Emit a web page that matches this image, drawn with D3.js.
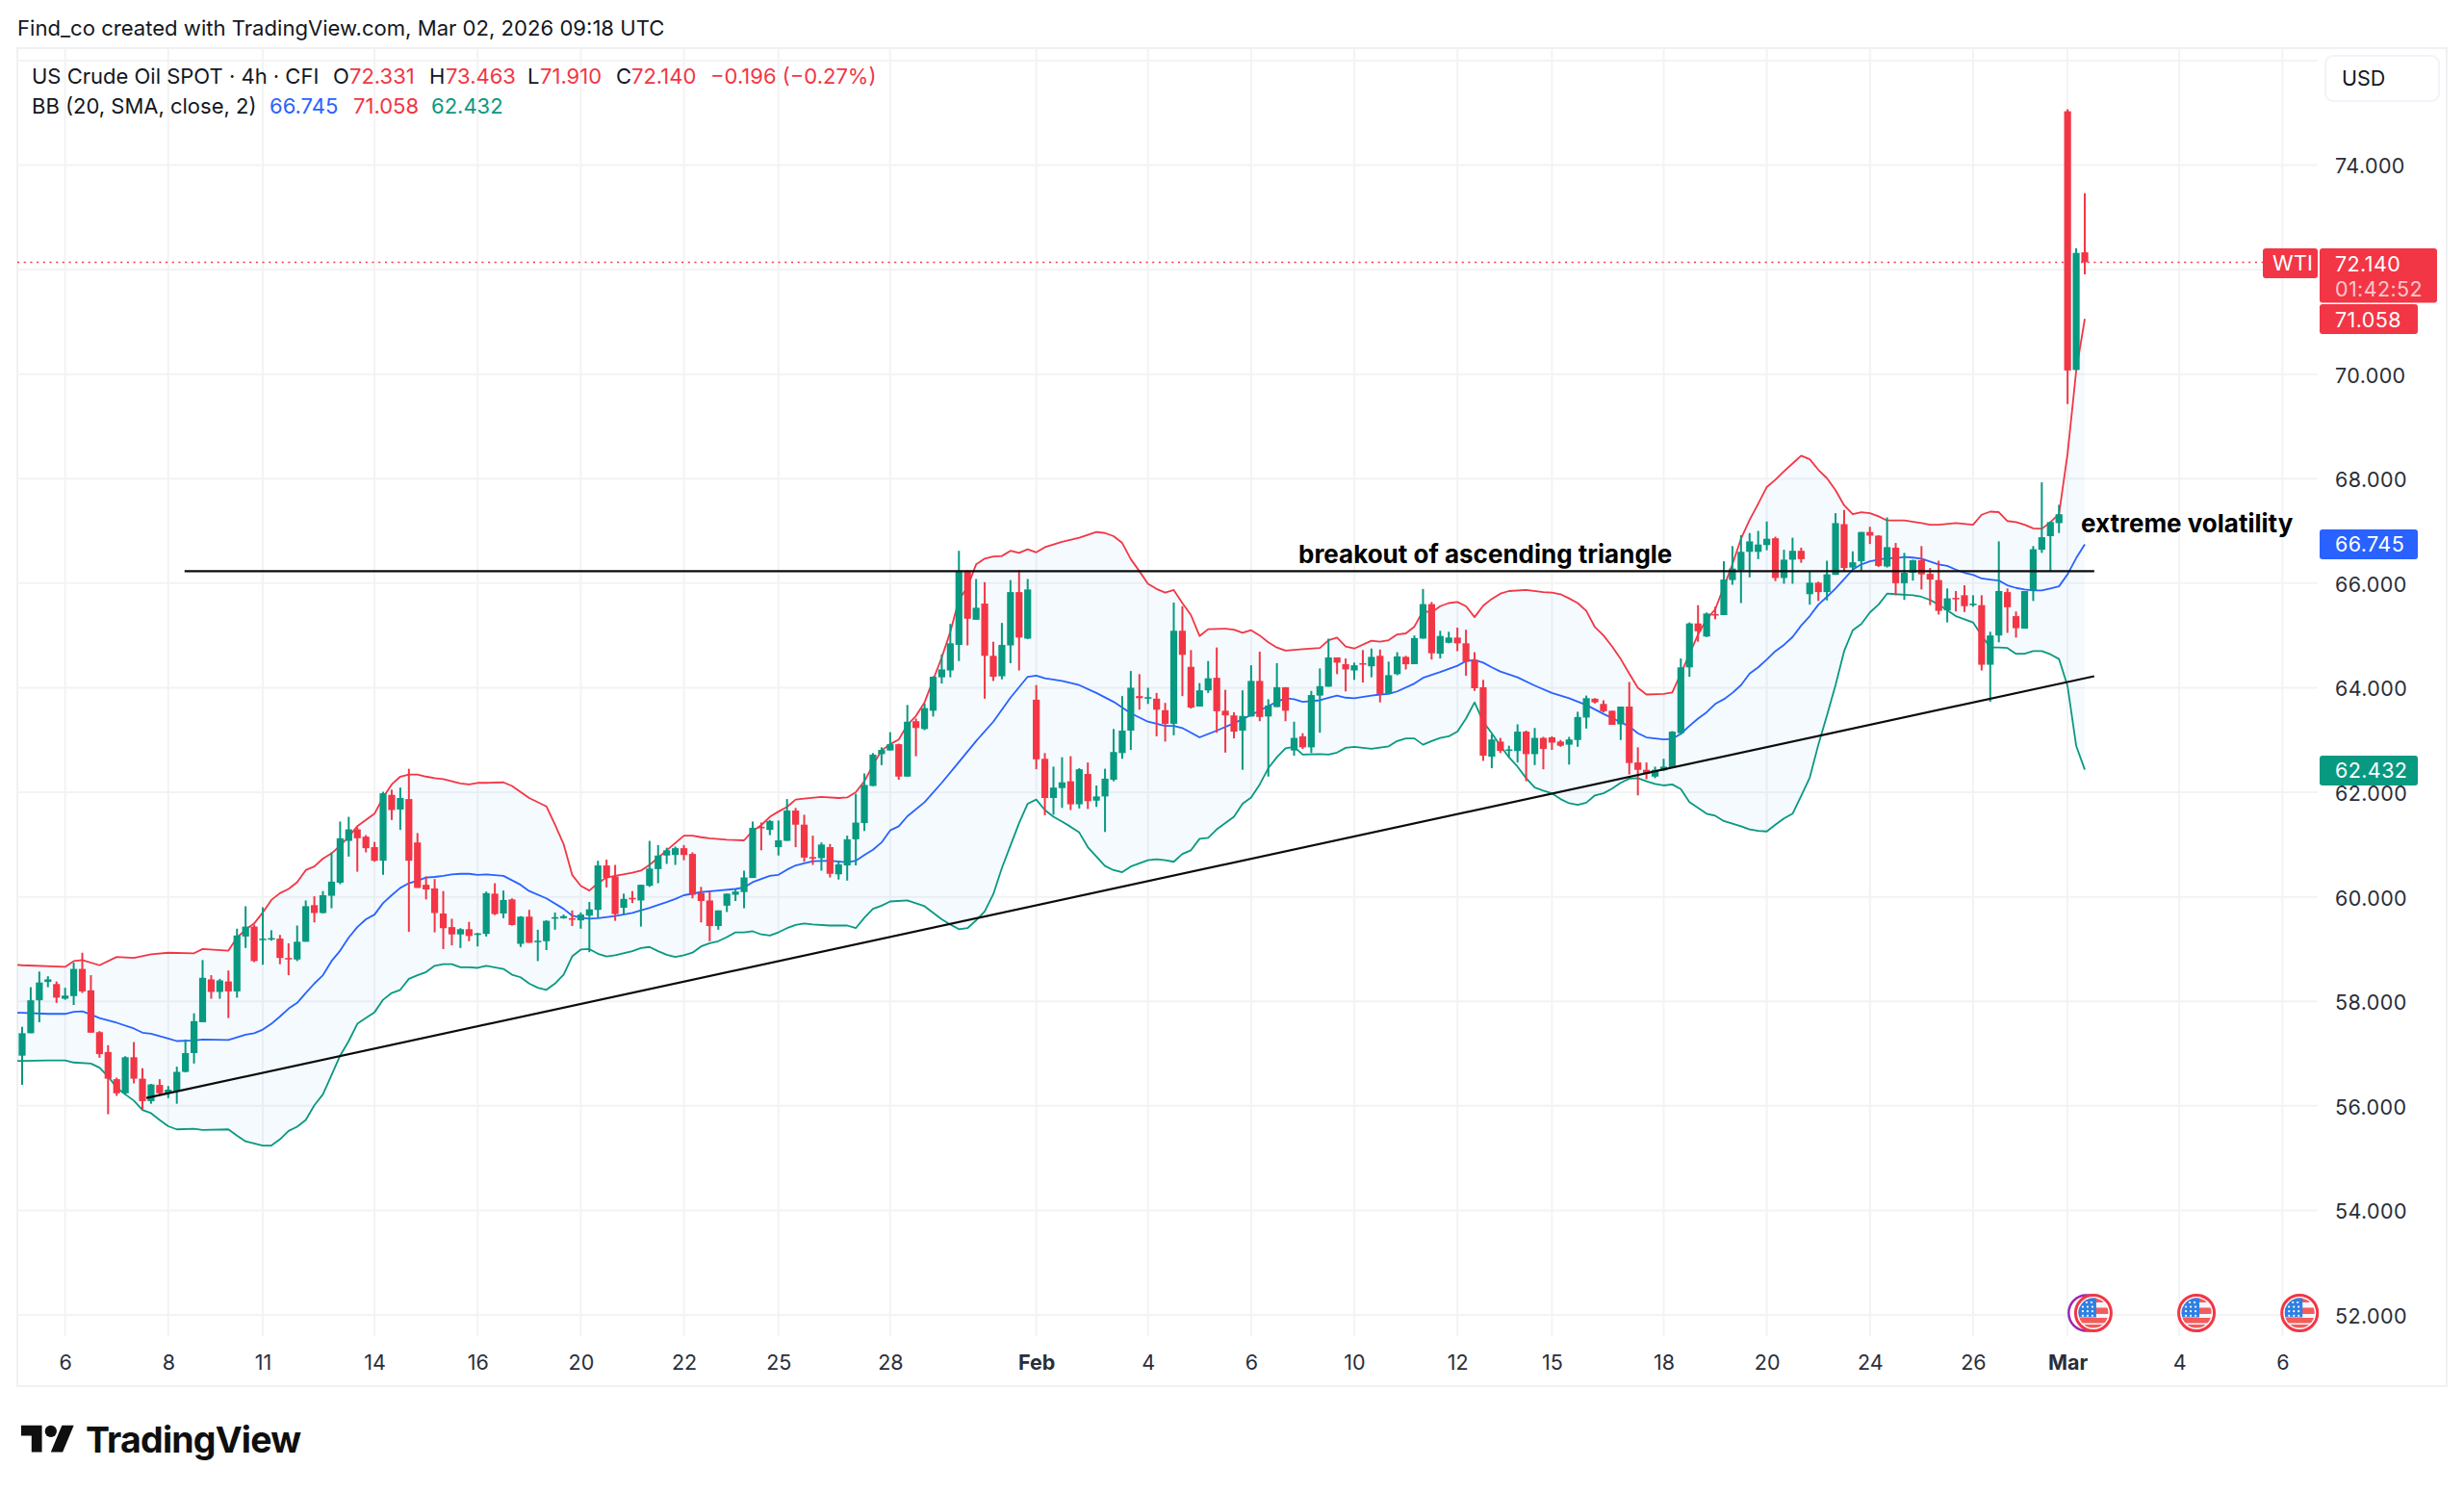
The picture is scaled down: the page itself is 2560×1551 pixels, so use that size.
<!DOCTYPE html>
<html>
<head>
<meta charset="utf-8">
<title>US Crude Oil SPOT 4h</title>
<script src="https://cdn.jsdelivr.net/npm/d3@7/dist/d3.min.js"></script>
<style>
html,body{margin:0;padding:0;background:#fff}
svg{display:block}
text{font-family:Inter,"Noto Sans",sans-serif}
</style>
</head>
<body>
<svg id="chart" width="2560" height="1551"></svg>
<script>
// Four-hour candles, one row per session: open, high, low, close
const candles = [
[56.96,57.51,56.40,57.39],[57.39,58.27,57.39,58.02],[58.02,58.57,57.60,58.36],[58.37,58.48,58.27,58.42],[58.33,58.38,57.97,58.07],
[58.05,58.26,58.03,58.11],[58.10,58.74,57.93,58.62],[58.62,58.93,58.16,58.19],[58.21,58.50,57.40,57.40],[57.41,57.43,56.92,56.99],
[57.03,57.16,55.84,56.52],[56.51,56.54,56.19,56.24],[56.24,56.95,56.21,56.93],[56.93,57.22,56.43,56.52],[56.52,56.72,55.92,56.09],
[56.09,56.42,56.04,56.41],[56.40,56.51,56.21,56.24],[56.24,56.38,56.15,56.31],[56.28,56.75,56.04,56.65],[56.65,57.27,56.64,57.01],
[57.01,57.77,56.81,57.62],[57.60,58.79,57.60,58.45],[58.42,58.50,58.05,58.18],[58.18,58.43,58.05,58.40],[58.38,58.59,57.68,58.19],
[58.19,59.39,58.07,59.26],[59.24,59.82,59.02,59.43],[59.43,59.47,58.75,58.77],[59.17,59.80,58.70,59.20],[59.18,59.36,59.16,59.21],
[59.20,59.27,58.71,58.83],[58.83,59.11,58.50,58.82],[58.80,59.45,58.77,59.14],[59.14,59.93,59.14,59.82],[59.84,60.01,59.51,59.69],
[59.69,60.11,59.68,60.03],[60.02,60.85,59.78,60.29],[60.27,61.44,60.24,61.12],[61.07,61.53,60.77,61.29],[61.29,61.33,60.48,61.12],
[61.15,61.18,60.85,60.93],[60.95,61.05,60.67,60.69],[60.69,62.01,60.42,61.98],[61.95,62.05,61.47,61.66],[61.67,62.09,61.28,61.89],
[61.87,62.45,59.33,60.69],[61.04,61.22,60.17,60.17],[60.23,60.39,59.95,60.14],[60.16,60.34,59.32,59.69],[59.68,60.11,59.00,59.40],
[59.42,59.58,59.07,59.28],[59.28,59.40,59.02,59.38],[59.38,59.52,59.15,59.25],[59.28,59.31,59.05,59.30],[59.29,60.10,59.24,60.07],
[60.06,60.26,59.65,59.67],[59.68,60.12,59.59,59.94],[59.95,59.97,59.45,59.46],[59.10,59.63,59.04,59.62],[59.62,59.75,59.12,59.12],
[59.15,59.37,58.77,59.16],[59.15,59.55,58.98,59.54],[59.59,59.70,59.37,59.61],[59.59,59.66,59.58,59.63],[59.59,59.74,59.44,59.58],
[59.55,59.70,59.39,59.66],[59.64,59.90,58.94,59.76],[59.75,60.69,59.59,60.60],[60.60,60.71,60.18,60.36],[60.39,60.61,59.54,59.67],
[59.79,60.06,59.66,59.96],[59.98,60.11,59.88,59.96],[59.93,60.23,59.43,60.23],[60.21,61.07,60.19,60.54],[60.53,60.99,60.26,60.79],
[60.79,60.94,60.63,60.89],[60.80,60.96,60.61,60.93],[60.93,60.99,60.70,60.80],[60.82,60.85,59.97,60.04],[60.07,60.19,59.51,59.92],
[59.93,60.11,59.15,59.44],[59.44,59.74,59.37,59.74],[59.83,60.06,59.71,60.06],[60.04,60.15,59.92,60.10],[60.09,60.50,59.78,60.37],
[60.36,61.44,60.36,61.32],[61.34,61.42,60.89,61.32],[61.28,61.47,61.18,61.45],[60.95,61.46,60.79,61.08],[61.07,61.87,61.07,61.65],
[61.65,61.70,60.95,61.38],[61.38,61.57,60.67,60.75],[60.76,61.17,60.61,60.74],[60.74,61.04,60.50,61.00],[60.95,61.01,60.37,60.44],
[60.43,60.69,60.33,60.62],[60.60,61.17,60.31,61.10],[61.10,61.97,60.60,61.42],[61.41,62.36,61.26,62.14],[62.12,62.75,62.12,62.72],
[62.73,62.86,62.52,62.81],[62.80,63.15,62.80,62.92],[62.92,62.93,62.24,62.30],[62.30,63.67,62.30,63.35],[63.36,63.41,62.69,63.23],
[63.21,63.70,63.19,63.61],[63.56,64.22,63.45,64.21],[64.20,64.64,64.08,64.35],[64.33,65.22,64.20,64.85],[64.82,66.62,64.51,66.23],
[66.23,66.25,64.81,65.32],[65.30,66.08,65.30,65.53],[65.61,66.02,63.79,64.61],[64.61,64.88,64.13,64.21],[64.22,65.24,64.16,64.82],
[64.81,66.06,64.47,65.83],[65.83,66.25,64.33,64.96],[64.94,66.08,64.93,65.88],[63.77,64.05,62.44,62.63],[62.64,62.75,61.56,61.89],
[61.89,62.49,61.57,62.09],[62.08,62.67,61.70,62.19],[62.21,62.69,61.66,61.77],[61.77,62.46,61.69,62.44],[62.35,62.57,61.68,61.83],
[61.84,62.13,61.72,61.92],[61.92,62.45,61.24,62.26],[62.24,63.21,62.21,62.77],[62.75,63.84,62.64,63.18],[63.18,64.32,62.81,64.00],
[63.84,64.26,63.58,63.80],[63.81,64.00,63.69,63.82],[63.79,63.90,63.07,63.58],[63.57,63.71,62.97,63.31],[63.31,65.63,63.09,65.09],
[65.09,65.56,63.84,64.63],[64.40,64.72,63.60,63.62],[63.64,64.09,63.64,63.95],[63.95,64.51,63.90,64.18],[64.19,64.77,63.14,63.55],
[63.56,63.96,62.76,63.47],[63.47,63.53,63.03,63.16],[63.18,63.95,62.43,63.46],[63.45,64.43,63.45,64.13],[64.13,64.69,63.36,63.44],
[63.45,63.78,62.30,63.66],[63.63,64.47,63.63,64.01],[64.01,64.01,63.36,63.56],[62.80,63.35,62.70,63.04],[63.07,63.13,62.83,62.86],
[62.86,63.94,62.75,63.86],[63.85,64.37,63.14,64.03],[64.02,64.94,64.02,64.58],[64.58,64.58,64.26,64.48],[64.45,64.56,63.93,64.35],
[64.33,64.48,64.15,64.43],[64.47,64.72,64.10,64.46],[64.41,64.75,64.20,64.59],[64.61,64.73,63.72,63.88],[63.88,64.50,63.88,64.24],
[64.26,64.68,64.24,64.60],[64.59,64.61,64.35,64.45],[64.45,65.00,64.45,64.95],[64.94,65.89,64.94,65.60],[65.60,65.64,64.54,64.66],
[64.65,65.09,64.56,64.99],[64.86,65.07,64.85,64.96],[64.96,65.15,64.70,64.85],[64.85,65.11,64.23,64.50],[64.53,64.68,63.94,63.99],
[64.01,64.15,62.60,62.70],[62.68,63.11,62.46,63.01],[62.97,63.04,62.75,62.79],[62.81,62.89,62.67,62.82],[62.79,63.30,62.57,63.16],
[63.16,63.18,62.21,62.73],[62.73,63.23,62.52,63.04],[63.04,63.06,62.44,62.83],[63.05,63.07,62.81,62.95],[62.97,63.00,62.87,62.89],
[62.91,63.06,62.53,63.01],[63.00,63.54,62.87,63.44],[63.43,63.85,63.22,63.80],[63.79,63.80,63.70,63.72],[63.69,63.76,63.53,63.55],
[63.56,63.56,63.29,63.29],[63.30,63.64,63.00,63.64],[63.64,64.11,62.34,62.56],[62.57,62.86,61.94,62.43],[62.43,62.57,62.25,62.35],
[62.30,62.49,62.27,62.43],[62.42,62.64,62.41,62.49],[62.47,63.17,62.47,63.16],[63.13,64.56,63.10,64.39],[64.39,65.25,64.21,65.23],
[65.23,65.58,64.88,65.08],[64.98,65.44,64.97,65.42],[65.41,65.55,65.31,65.40],[65.39,66.42,65.39,66.07],[66.06,66.71,65.97,66.28],
[66.25,66.92,65.62,66.60],[66.60,66.96,66.11,66.80],[66.60,67.00,66.46,66.74],[66.73,67.18,66.63,66.85],[66.86,66.89,66.04,66.10],
[66.10,66.64,65.99,66.45],[66.45,66.87,65.99,66.62],[66.62,66.68,66.39,66.46],[65.79,66.23,65.59,66.01],[66.01,66.03,65.66,65.83],
[65.83,66.43,65.67,66.17],[66.16,67.34,66.16,67.15],[67.13,67.40,66.23,66.29],[66.30,66.61,66.26,66.40],[66.42,66.98,66.22,66.98],
[66.98,67.08,66.75,66.91],[66.91,66.92,66.31,66.33],[66.32,67.26,66.30,66.69],[66.68,66.77,65.77,66.00],[66.00,66.58,65.68,66.20],
[66.20,66.45,66.05,66.44],[66.44,66.71,65.88,66.17],[66.18,66.29,65.58,66.07],[66.06,66.43,65.40,65.47],[65.48,65.90,65.25,65.71],
[65.72,65.85,65.46,65.70],[65.77,65.96,65.45,65.56],[65.60,65.77,65.55,65.61],[65.58,65.77,64.33,64.44],[64.44,65.07,63.73,65.00],
[65.00,66.80,64.87,65.85],[65.83,65.90,65.05,65.54],[65.37,65.46,64.96,65.14],[65.13,65.85,65.13,65.85],[65.86,66.71,65.66,66.65],
[66.64,67.93,66.58,66.88],[66.90,67.18,66.23,67.17],[67.15,67.50,66.96,67.32],[75.03,75.07,69.43,70.07],[70.08,72.41,70.08,72.32],
[72.331,73.463,71.91,72.14]
];

// Bollinger bands as [session, price] vertices
const upperBand = [
[-1,58.70],[0,58.69],[5,58.66],[6,58.77],[7,58.79],[9,58.69],[11,58.85],[13,58.83],[15,58.90],[17,58.93],[20,58.92],[21,59.00],[24,58.97],[25,59.22],[26,59.37],[27,59.49],[28,59.70],[29,59.94],[30,60.07],[31,60.15],[32,60.28],
[33,60.51],[34,60.58],[35,60.73],[36,60.83],[37,60.98],[38,61.15],[39,61.35],[40,61.47],[41,61.59],[42,61.90],[43,62.15],[44,62.30],[45,62.34],[46,62.34],[47,62.30],[48,62.27],[49,62.25],[50,62.21],[51,62.17],[52,62.15],[53,62.18],[54,62.18],
[56,62.19],[57,62.12],[59,61.89],[61,61.73],[62,61.38],[63,61.01],[64,60.42],[65,60.21],[66,60.12],[67,60.26],[68,60.37],[69,60.40],[71,60.46],[72,60.50],[73,60.61],[75,60.89],[77,61.17],[78,61.17],[79,61.14],[80,61.12],[82,61.09],[84,61.08],[85,61.26],[86,61.37],[87,61.53],[88,61.63],[89,61.72],[90,61.86],[91,61.88],[93,61.91],[95,61.89],[96,61.90],[97,62.00],[98,62.21],
[99,62.52],[100,62.80],[101,62.92],[102,63.01],[103,63.29],[104,63.46],[105,63.72],[106,64.15],[107,64.58],[108,65.07],[109,65.68],[110,65.93],[111,66.36],[112,66.47],[113,66.51],[114,66.52],[115,66.62],[116,66.58],[117,66.65],[118,66.59],[119,66.69],[121,66.79],[123,66.87],[125,66.98],[126,66.96],[127,66.90],[128,66.77],[129,66.46],[130,66.23],[131,65.99],[132,65.89],[133,65.82],[134,65.87],[135,65.62],[136,65.39],[137,64.99],[138,65.12],[140,65.13],[141,65.11],[142,65.05],[143,65.10],[144,65.00],[145,64.87],[146,64.77],[147,64.71],[149,64.74],[151,64.76],[152,64.91],[153,64.96],[154,64.79],
[155,64.75],[157,64.90],[158,64.88],[159,64.91],[160,65.02],[161,65.04],[162,65.17],[163,65.47],[164,65.44],[165,65.56],[166,65.62],[167,65.64],[168,65.56],[169,65.35],[170,65.57],[171,65.70],[172,65.80],[173,65.85],[175,65.87],[177,65.83],[178,65.82],[179,65.79],[180,65.71],[181,65.62],[182,65.47],[183,65.16],[184,65.00],[185,64.79],[186,64.55],[187,64.27],[188,64.00],[189,63.87],[191,63.88],[192,63.91],[193,64.27],[194,64.64],[195,65.02],
[196,65.31],[197,65.50],[198,65.93],[199,66.36],[200,66.85],[201,67.21],[202,67.52],[203,67.84],[204,67.98],[205,68.14],[206,68.29],[207,68.44],[208,68.37],[209,68.17],[210,68.01],[211,67.78],[212,67.49],[213,67.32],[214,67.36],[215,67.34],[216,67.28],[217,67.20],[219,67.20],[221,67.15],[222,67.12],[223,67.12],[225,67.15],[227,67.12],[228,67.31],[229,67.37],[230,67.36],[231,67.19],[232,67.17],[233,67.12],[234,67.05],[235,67.04],[236,67.17],[237,67.32],[238,68.48],[239,70.06],[240,71.058]
];

const basisBand = [
[-1,57.78],[0,57.78],[3,57.76],[5,57.76],[6,57.80],[7,57.81],[8,57.75],[9,57.68],[11,57.59],[13,57.48],[14,57.40],[15,57.38],[17,57.29],[18,57.24],[20,57.25],[21,57.27],[24,57.26],[25,57.31],[26,57.36],[27,57.39],[28,57.46],[29,57.57],[30,57.71],[31,57.86],[32,57.97],[33,58.16],[34,58.34],[35,58.50],[36,58.77],[37,58.97],[38,59.22],[39,59.42],[40,59.57],[41,59.66],[42,59.88],[43,60.03],[44,60.17],[45,60.26],[46,60.31],[47,60.37],[48,60.38],[49,60.40],[50,60.43],[51,60.44],[52,60.44],[53,60.42],
[54,60.43],[56,60.40],[58,60.23],[59,60.11],[61,59.97],[63,59.77],[64,59.64],[65,59.60],[66,59.58],[67,59.59],[69,59.63],[71,59.69],[73,59.79],[75,59.90],[76,59.96],[77,60.03],[79,60.09],[81,60.12],[83,60.15],[84,60.18],[85,60.28],[86,60.34],[87,60.40],[88,60.42],[89,60.52],[90,60.60],[91,60.64],[92,60.68],[94,60.69],[96,60.66],[97,60.69],[98,60.80],[99,60.90],[100,61.04],[101,61.27],[102,61.35],
[103,61.54],[105,61.81],[107,62.18],[109,62.58],[111,62.98],[113,63.35],[115,63.81],[117,64.21],[118,64.23],[119,64.18],[121,64.13],[123,64.05],[125,63.90],[127,63.73],[129,63.51],[131,63.35],[133,63.27],[134,63.27],[135,63.23],[137,63.05],[139,63.18],[141,63.32],[143,63.48],[145,63.65],[146,63.73],[147,63.80],[148,63.78],[149,63.73],[151,63.76],[152,63.81],[153,63.85],[154,63.81],
[155,63.80],[157,63.85],[158,63.87],[159,63.88],[160,63.93],[162,64.08],[163,64.19],[165,64.30],[167,64.42],[168,64.51],[169,64.53],[170,64.48],[171,64.39],[172,64.31],[174,64.20],[176,64.04],[178,63.90],[180,63.80],[182,63.67],[184,63.50],[186,63.34],[187,63.26],[188,63.13],[189,63.05],[190,63.03],[191,63.01],[192,63.02],[193,63.12],[194,63.27],[195,63.41],[196,63.53],[197,63.69],[198,63.78],[199,63.90],
[200,64.05],[201,64.27],[202,64.39],[203,64.54],[204,64.70],[205,64.82],[206,64.97],[207,65.19],[208,65.37],[209,65.59],[210,65.74],[211,65.90],[212,66.08],[213,66.26],[214,66.36],[215,66.42],[216,66.45],[217,66.48],[218,66.48],[219,66.50],[220,66.49],[221,66.47],[223,66.36],[224,66.33],[225,66.26],[226,66.20],[227,66.16],[228,66.09],[229,66.07],[230,66.05],[231,65.96],[232,65.91],[233,65.88],[234,65.86],[235,65.86],[236,65.90],[237,65.94],[238,66.17],[239,66.48],[240,66.745]
];

const lowerBand = [
[-1,56.86],[0,56.86],[3,56.87],[5,56.87],[6,56.83],[8,56.81],[9,56.73],[10,56.56],[11,56.35],[12,56.22],[13,56.10],[14,55.92],[15,55.86],[16,55.73],[17,55.61],[18,55.55],[20,55.56],[21,55.54],[24,55.55],[25,55.43],[26,55.32],[27,55.28],[28,55.24],[29,55.24],[30,55.36],[31,55.52],[32,55.60],[33,55.73],[34,56.01],[35,56.22],[36,56.59],[37,56.96],[38,57.24],[39,57.57],[40,57.68],[41,57.79],[42,58.03],[43,58.16],[44,58.22],[45,58.43],[46,58.50],[47,58.56],[48,58.68],[49,58.71],[50,58.71],[51,58.65],[52,58.65],
[53,58.64],[54,58.68],[56,58.62],[57,58.51],[58,58.46],[59,58.34],[60,58.26],[61,58.22],[62,58.34],[63,58.51],[64,58.86],[65,58.99],[66,59.00],[67,58.91],[68,58.86],[69,58.88],[71,58.96],[72,59.02],[73,59.04],[74,58.96],[75,58.89],[76,58.85],[77,58.88],[78,58.93],[79,59.05],[80,59.11],[81,59.15],[82,59.23],[83,59.32],[84,59.32],[85,59.34],[86,59.28],[87,59.26],[88,59.32],[89,59.40],[90,59.46],[91,59.49],[92,59.47],[94,59.45],[96,59.45],[97,59.40],[98,59.60],[99,59.77],[100,59.83],[101,59.91],[103,59.93],[105,59.82],[107,59.57],[108,59.47],[109,59.38],[110,59.40],[111,59.55],[112,59.72],[113,60.05],[114,60.55],[115,60.98],[116,61.41],[117,61.78],[118,61.86],
[119,61.66],[120,61.53],[121,61.44],[122,61.34],[123,61.23],[124,60.95],[125,60.77],[126,60.59],[127,60.51],[128,60.47],[129,60.58],[130,60.64],[131,60.70],[132,60.72],[133,60.70],[134,60.67],[135,60.82],[136,60.89],[137,61.11],[138,61.13],[139,61.29],[140,61.41],[141,61.53],[142,61.78],[143,61.90],[144,62.15],[145,62.46],[146,62.67],[147,62.84],[148,62.87],[149,62.72],[151,62.73],[152,62.72],[153,62.76],[154,62.85],[155,62.87],[157,62.83],[159,62.88],[160,62.98],[161,63.03],[162,63.03],[163,62.91],[164,62.98],[165,63.04],[166,63.07],[167,63.16],[168,63.41],[169,63.72],[170,63.35],[171,63.13],[172,62.89],[173,62.67],[174,62.49],[175,62.27],[176,62.09],[177,62.03],[178,61.98],[179,61.87],[180,61.79],[181,61.76],[182,61.80],[183,61.94],[184,61.98],[185,62.07],[186,62.18],[187,62.26],[188,62.27],[189,62.21],[190,62.16],[191,62.13],[192,62.15],[193,62.06],[194,61.81],[195,61.70],[196,61.59],[197,61.55],[198,61.45],[199,61.40],[200,61.35],[201,61.29],[202,61.26],[203,61.25],[204,61.38],[205,61.50],[206,61.59],[207,61.93],[208,62.28],
[209,62.91],[210,63.47],[211,64.05],[212,64.70],[213,65.10],[214,65.22],[215,65.44],[216,65.59],[217,65.80],[218,65.79],[219,65.78],[220,65.77],[221,65.74],[222,65.68],[223,65.59],[224,65.48],[225,65.37],[226,65.31],[227,65.25],[228,65.00],[229,64.77],[230,64.77],[231,64.76],[232,64.65],[233,64.65],[234,64.70],[235,64.70],[236,64.64],[237,64.55],[238,64.03],[239,62.89],[240,62.432]
];

// Drawn levels: flat resistance and rising support
const resistance = [[18.9,66.23],[241.1,66.23]];
const support = [[14.45,56.15],[241.1,64.22]];

// Time and price axis labelling
const timeTickSessions = [5,17,28,41,53,65,77,88,101,118,131,143,155,167,178,191,203,215,227,238,251,263];
const timeTickLabels = ["6","8","11","14","16","20","22","25","28","Feb","4","6","10","12","15","18","20","24","26","Mar","4","6"];
const gridPrices = [52,54,56,58,60,62,64,66,68,70,72,74,76];
const labelledPrices = [52,54,56,58,60,62,64,66,68,70,74];
const eventSessions = [241,253,265];

const quote = {open:"72.331",high:"73.463",low:"71.910",close:"72.140",change:"\u22120.196 (\u22120.27%)"};
const bollinger = {basis:66.745,upper:71.058,lower:62.432,last:72.14};

const RED="#F23645",GREEN="#089981",BLUE="#2962FF",INK="#131722",AXIS="#2a2e39",GRID="#f3f3f4";

const svg=d3.select("#chart");
svg.append("rect").attr("width",2560).attr("height",1551).attr("fill","#fff");

const x=d3.scaleLinear().domain([0,240]).range([23,2166]);
const y=d3.scaleLinear().domain([52,74]).range([1366,171.5]);
const paneLeft=18,paneRight=2408,paneTop=50,paneBottom=1388;

// Outer frame
svg.append("rect").attr("x",18).attr("y",50).attr("width",2524).attr("height",1390)
  .attr("fill","none").attr("stroke","#f1f1f2").attr("stroke-width",2);

svg.append("defs").append("clipPath").attr("id","pane").append("rect")
  .attr("x",paneLeft).attr("y",paneTop).attr("width",paneRight-paneLeft).attr("height",paneBottom-paneTop);

// Grid
const grid=svg.append("g").attr("stroke",GRID).attr("stroke-width",2);
grid.selectAll("line.h").data(gridPrices).join("line").attr("class","h")
  .attr("x1",paneLeft).attr("x2",paneRight).attr("y1",d=>y(d)).attr("y2",d=>y(d));
grid.selectAll("line.v").data(timeTickSessions).join("line").attr("class","v")
  .attr("x1",d=>x(d)).attr("x2",d=>x(d)).attr("y1",paneTop).attr("y2",paneBottom);

const plot=svg.append("g").attr("clip-path","url(#pane)");
const line=d3.line().x(d=>x(d[0])).y(d=>y(d[1]));

// Band fill between the outer curves
plot.append("path")
  .attr("d",line(upperBand.concat(lowerBand.slice().reverse()))+"Z")
  .attr("fill","#2196F3").attr("fill-opacity",0.05);

[[upperBand,RED],[basisBand,BLUE],[lowerBand,GREEN]].forEach(([pts,col])=>{
  plot.append("path").attr("d",line(pts)).attr("fill","none").attr("stroke",col)
    .attr("stroke-width",1.8).attr("stroke-linejoin","round");
});

// Last price marker line
plot.append("line").attr("x1",paneLeft).attr("x2",2351)
  .attr("y1",y(bollinger.last)).attr("y2",y(bollinger.last))
  .attr("stroke",RED).attr("stroke-width",1.5).attr("stroke-dasharray","2 4.7");

// Candles
const bars=plot.selectAll("g.bar").data(candles).join("g").attr("class","bar")
  .attr("fill",d=>d[3]>=d[0]?GREEN:RED).attr("stroke",d=>d[3]>=d[0]?GREEN:RED);
bars.append("line").attr("x1",(d,i)=>x(i)).attr("x2",(d,i)=>x(i))
  .attr("y1",d=>y(d[1])).attr("y2",d=>y(d[2])).attr("stroke-width",2);
bars.append("rect").attr("stroke","none").attr("x",(d,i)=>x(i)-3.6).attr("width",7.2)
  .attr("y",d=>y(Math.max(d[0],d[3])))
  .attr("height",d=>Math.max(1.6,Math.abs(y(d[0])-y(d[3]))));

// Drawn levels and their notes
[resistance,support].forEach(pts=>{
  plot.append("path").attr("d",line(pts)).attr("fill","none").attr("stroke","#0b0b0b").attr("stroke-width",2.2);
});
svg.append("text").attr("x",1349).attr("y",585).attr("font-size",26).attr("font-weight",700).attr("fill","#000").text("breakout of ascending triangle");
svg.append("text").attr("x",2162).attr("y",553).attr("font-size",26).attr("font-weight",700).attr("fill","#000").text("extreme volatility");

// Axes
const axisText=sel=>sel.selectAll("text").attr("font-size",21.5).attr("fill",AXIS).style("font-family","Inter,sans-serif");
const yAxis=d3.axisRight(y).tickValues(labelledPrices).tickFormat(d3.format(".3f")).tickSize(0).tickPadding(0);
const yG=svg.append("g").attr("transform","translate(2426,1.5)").call(yAxis);
yG.select(".domain").remove();
axisText(yG);
yG.selectAll("text").attr("letter-spacing",0.4);

const xAxis=d3.axisBottom(x).tickValues(timeTickSessions).tickFormat((d,i)=>timeTickLabels[i]).tickSize(0).tickPadding(0);
const xG=svg.append("g").attr("transform","translate(0,1408)").call(xAxis);
xG.select(".domain").remove();
axisText(xG);
xG.selectAll("text").attr("font-weight",(d,i)=>/[A-Z]/.test(timeTickLabels[i])?700:400);

// Price flags on the scale
function flag(x0,y0,w,h,col){
  svg.append("rect").attr("x",x0).attr("y",y0).attr("width",w).attr("height",h).attr("rx",3).attr("fill",col);
}
flag(2351,258,57,31,RED);
svg.append("text").attr("x",2361).attr("y",281).attr("font-size",22).attr("fill","#fff").text("WTI");
flag(2410,258,122,56.5,RED);
svg.append("text").attr("x",2426).attr("y",282).attr("font-size",21.5).attr("letter-spacing",0.4).attr("fill","#fff").text(bollinger.last.toFixed(3));
svg.append("text").attr("x",2426).attr("y",308).attr("font-size",21.5).attr("letter-spacing",0.4).attr("fill","#fff").attr("fill-opacity",0.72).text("01:42:52");
flag(2410,316,102,31,RED);
svg.append("text").attr("x",2426).attr("y",340).attr("font-size",21.5).attr("letter-spacing",0.4).attr("fill","#fff").text(bollinger.upper.toFixed(3));
flag(2410,550,102,31,BLUE);
svg.append("text").attr("x",2426).attr("y",573).attr("font-size",21.5).attr("letter-spacing",0.4).attr("fill","#fff").text(bollinger.basis.toFixed(3));
flag(2410,785,102,31,GREEN);
svg.append("text").attr("x",2426).attr("y",808).attr("font-size",21.5).attr("letter-spacing",0.4).attr("fill","#fff").text(bollinger.lower.toFixed(3));

// Currency button
svg.append("rect").attr("x",2416).attr("y",58).attr("width",118).attr("height",47).attr("rx",8)
  .attr("fill","#fff").attr("stroke","#f0f3fa").attr("stroke-width",2);
svg.append("text").attr("x",2433).attr("y",89).attr("font-size",21.5).attr("fill",INK).text("USD");

// Header and legend
svg.append("text").attr("x",18).attr("y",37).attr("font-size",22.1).attr("fill",INK)
  .text("Find_co created with TradingView.com, Mar 02, 2026 09:18 UTC");
const legend=(tx,ty,str,col)=>svg.append("text").attr("x",tx).attr("y",ty).attr("font-size",22).attr("fill",col).text(str);
legend(33,87,"US Crude Oil SPOT \u00b7 4h \u00b7 CFI",INK);
legend(346,87,"O",INK); legend(363,87,quote.open,RED);
legend(446,87,"H",INK); legend(463,87,quote.high,RED);
legend(548,87,"L",INK); legend(561,87,quote.low,RED);
legend(640,87,"C",INK); legend(656,87,quote.close,RED);
legend(738,87,quote.change,RED);
legend(33,118,"BB (20, SMA, close, 2)",INK);
legend(280,118,bollinger.basis.toFixed(3),BLUE);
legend(367,118,bollinger.upper.toFixed(3),RED);
legend(448,118,bollinger.lower.toFixed(3),GREEN);

// Calendar event badges along the bottom of the pane
const badgeY=1364;
svg.append("circle").attr("cx",x(240.2)).attr("cy",badgeY).attr("r",18.5).attr("fill","#fff").attr("stroke","#9C27B0").attr("stroke-width",2.5);
eventSessions.forEach((s,k)=>{
  const g=svg.append("g").attr("transform",`translate(${x(s)},${badgeY})`);
  const id="flagclip"+k;
  g.append("clipPath").attr("id",id).append("circle").attr("r",15.5);
  g.append("circle").attr("r",18.5).attr("fill","#fff").attr("stroke",RED).attr("stroke-width",3);
  const f=g.append("g").attr("clip-path",`url(#${id})`);
  f.append("rect").attr("x",-16).attr("y",-16).attr("width",32).attr("height",32).attr("fill","#F5F7FD");
  [[-16,5],[-5.5,6.5],[5,5.5],[12,6]].forEach(([t,h])=>{
    f.append("rect").attr("x",-16).attr("y",t).attr("width",32).attr("height",h).attr("fill","#F45B5B");
  });
  f.append("rect").attr("x",-16).attr("y",-16).attr("width",19).attr("height",20.5).attr("fill","#2F80E4");
  for(let r=0;r<4;r++)for(let c=0;c<(r===0?2:3);c++){
    f.append("circle").attr("cx",-11+c*5+(r===0?4:0)).attr("cy",-11+r*4.6).attr("r",1.1).attr("fill","#fff");
  }
});

// Wordmark
const logo=svg.append("g").attr("transform","translate(22,1474.5) scale(1.54)").attr("fill","#0f0f0f");
logo.append("path").attr("d","M14 22H7V11H0V4h14v18zM28 22h-8l7.5-18h8L28 22z");
logo.append("circle").attr("cx",20).attr("cy",8).attr("r",4);
svg.append("text").attr("x",89).attr("y",1509).attr("font-size",37.5).attr("font-weight",700).attr("letter-spacing",-0.8).attr("fill","#0f0f0f").text("TradingView");
</script>
</body>
</html>
